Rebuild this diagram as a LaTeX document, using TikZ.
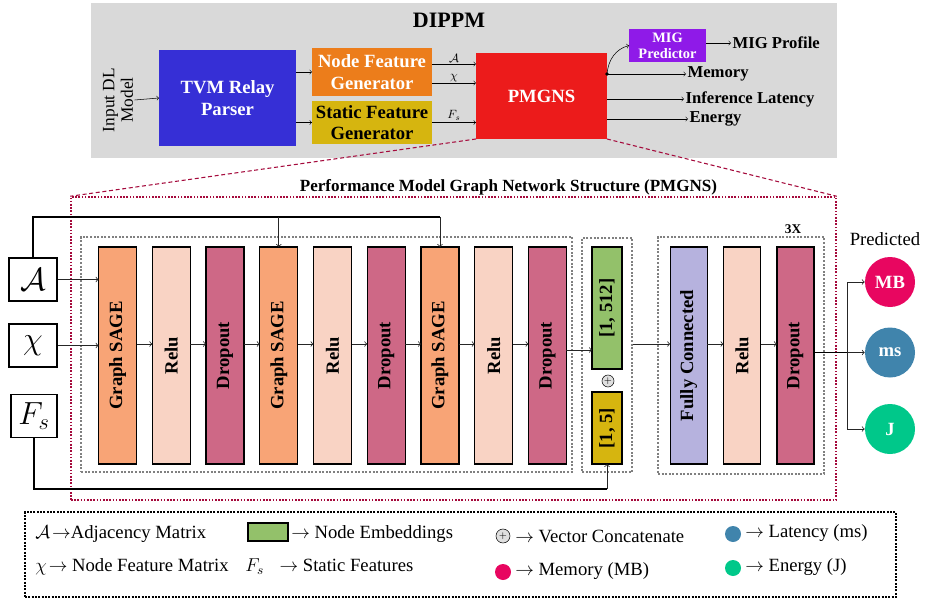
\RequirePackage{fix-cm}
\documentclass[tikz,border=0pt]{standalone}
\usepackage{fontspec}
\setmainfont{Liberation Serif}
\usepackage{graphicx}
\usetikzlibrary{matrix}

\definecolor{panel}{RGB}{217,217,217}
\definecolor{tvmblue}{RGB}{54,47,214}
\definecolor{nfgorange}{RGB}{236,125,27}
\definecolor{sfggold}{RGB}{214,181,15}
\definecolor{pmred}{RGB}{236,27,27}
\definecolor{migpurple}{RGB}{143,26,232}
\definecolor{crimson}{RGB}{165,10,60}
\definecolor{gsage}{RGB}{248,164,118}
\definecolor{relu}{RGB}{249,211,196}
\definecolor{drop}{RGB}{206,104,134}
\definecolor{embgreen}{RGB}{147,193,106}
\definecolor{fclav}{RGB}{182,178,222}
\definecolor{mbpink}{RGB}{232,6,96}
\definecolor{msblue}{RGB}{64,132,172}
\definecolor{jgreen}{RGB}{0,200,138}

\newcommand{\vlabel}[1]{\rotatebox{90}{#1}}

\def\GNNStack{
    \matrix (gnn) at (332.5,355.5)
    [matrix of nodes,
    ampersand replacement=\&,
    column sep={10.8pt},
    nodes={outer sep=0pt, inner sep=0pt, anchor=center, minimum width=28.5pt, minimum height=162.75pt, draw, line width=1pt, rectangle, font=\fontsize{14}{16}\selectfont\bfseries} ]
    {
     |[fill=gsage]| \vlabel{Graph SAGE} \& |[fill=relu]| \vlabel{Relu} \& |[fill=drop]| \vlabel{Dropout} \&
     |[fill=gsage]| \vlabel{Graph SAGE} \& |[fill=relu]| \vlabel{Relu} \& |[fill=drop]| \vlabel{Dropout} \&
     |[fill=gsage]| \vlabel{Graph SAGE} \& |[fill=relu]| \vlabel{Relu} \& |[fill=drop]| \vlabel{Dropout} \\
};
}

\def\FCStack{
    \matrix (fc) at (742,355.5)
    [matrix of nodes,
    ampersand replacement=\&,
    column sep={11.25pt},
    nodes={outer sep=0pt, inner sep=0pt, anchor=center, minimum width=27.75pt, minimum height=162.75pt, draw, line width=1pt, rectangle, font=\fontsize{14}{16}\selectfont\bfseries} ]
    {
     |[fill=fclav]| \vlabel{Fully Connected} \& |[fill=relu]| \vlabel{Relu} \& |[fill=drop]| \vlabel{Dropout} \\
};
}

\begin{document}
\begin{tikzpicture}[x=0.75pt, y=-0.75pt, >=to,
    block/.style={inner sep=0pt, outer sep=0pt, align=center, font=\fontsize{14}{16}\selectfont\bfseries},
    link/.style={->, draw=black!85, line width=0.6pt},
    rail/.style={line width=1.4pt},
    dashbox/.style={draw=gray, dash pattern=on 1.5pt off 1.2pt, line width=0.9pt, inner sep=0pt},
    outlbl/.style={anchor=west, inner sep=1pt, font=\fontsize{12.5}{14}\selectfont\bfseries},
    legtxt/.style={anchor=west, inner sep=0pt, font=\fontsize{14}{16}\selectfont},
    disc/.style={circle, inner sep=0pt, minimum size=37.5pt, text=white, font=\fontsize{14}{16}\selectfont\bfseries},
    inbox/.style={draw, fill=white, line width=1.2pt, minimum width=36pt, minimum height=32.25pt, inner sep=0pt, font=\fontsize{24}{28}\selectfont},
    concat/.style={circle, draw, fill=gray!25, minimum size=9pt, inner sep=0pt, font=\fontsize{7}{8}\selectfont}]

    \useasboundingbox (0,0) rectangle (927,602);

    % DIPPM overview
    \fill[panel] (91,3) rectangle (837,158);
    \node[font=\fontsize{16.5}{18}\selectfont\bfseries] (title) at (449,20) {DIPPM};
    \node[rotate=90, align=center, inner sep=1pt, font=\fontsize{13}{14}\selectfont] (inputdl) at (118,100) {Input DL\\Model};
    \node[block, fill=tvmblue, text=white, minimum width=102.75pt, minimum height=72pt] (tvm) at (227.5,98) {TVM Relay\\Parser};
    \node[block, fill=nfgorange, text=white, minimum width=90pt, minimum height=36pt] (nfg) at (372,72) {Node Feature\\Generator};
    \node[block, fill=sfggold, minimum width=90pt, minimum height=32.25pt] (sfg) at (372,122.5) {Static Feature\\Generator};
    \node[block, fill=pmred, text=white, minimum width=98.25pt, minimum height=64.5pt] (pmgns) at (541.5,96) {PMGNS};
    \node[block, fill=migpurple, text=white, minimum width=57.75pt, minimum height=24.75pt, font=\fontsize{10.8}{12}\selectfont\bfseries] (mig) at (667.5,45.5) {MIG\\Predictor};

    \node[outlbl] (migprof) at (731,43) {MIG Profile};
    \node[outlbl] (memory) at (686,74) {Memory};
    \node[outlbl] (latency) at (684,99) {Inference Latency};
    \node[outlbl] (energy) at (688,119) {Energy};

    \draw[->] (inputdl.south) -- (tvm.west);
    \draw[->] (tvm.east |- nfg.west) -- (nfg.west);
    \draw[->] (tvm.east |- sfg.west) -- (sfg.west);

    \coordinate (ain) at ([yshift=6pt]nfg.east);
    \coordinate (xin) at ([yshift=-8.25pt]nfg.east);
    \draw[->] (ain) -- (ain -| pmgns.west) node[midway, above, inner sep=1pt, font=\fontsize{9}{10}\selectfont] {$\mathcal{A}$};
    \draw[->] (xin) -- (xin -| pmgns.west) node[midway, above, inner sep=1pt, font=\fontsize{9}{10}\selectfont] {$\chi$};
    \draw[->] (sfg.east) -- (sfg.east -| pmgns.west) node[midway, above, inner sep=1.5pt, font=\fontsize{9}{10}\selectfont] {$F_s$};

    \coordinate (split) at (pmgns.east |- memory.west);
    \draw[->] (split) -- (memory.west);
    \draw[->] (pmgns.east |- latency.west) -- (latency.west);
    \draw[->] (pmgns.east |- energy.west) -- (energy.west);
    \draw[->] (split) to[out=85, in=195] (mig.west);
    \fill (split) circle (1.8);
    \draw[->] (mig.east |- migprof.west) -- (migprof.west);

    % PMGNS detail
    \node[draw=crimson, dash pattern=on 1.2pt off 1.2pt, line width=1.1pt, inner sep=0pt, minimum width=573.75pt, minimum height=227.25pt] (detail) at (453.5,348.5) {};
    \draw[crimson, dash pattern=on 3pt off 2pt, line width=0.8pt] (pmgns.south west) -- (detail.north west);
    \draw[crimson, dash pattern=on 3pt off 2pt, line width=0.8pt] (pmgns.south east) -- (detail.north east);
    \node[font=\fontsize{12.8}{14}\selectfont\bfseries] (detailtitle) at (508.5,187) {Performance Model Graph Network Structure (PMGNS)};

    \node[inbox] (adj) at (33,279.5) {$\mathcal{A}$};
    \node[inbox] (chi) at (33,345.5) {$\chi$};
    \node[inbox, minimum width=34.5pt] (fs) at (34,416) {$F_s$};

    \node[dashbox, minimum width=368.25pt, minimum height=176.25pt] (stage1) at (326.5,354.5) {};
    \GNNStack

    \node[dashbox, minimum width=37.5pt, minimum height=175.5pt] (stage2) at (607,355) {};
    \node[block, draw, line width=1pt, fill=embgreen, minimum width=22.5pt, minimum height=91.5pt] (emb) at (607,308) {\vlabel{[1, 512]}};
    \node[block, draw, line width=1pt, fill=sfggold, minimum width=22.5pt, minimum height=54pt] (stat) at (607,428) {\vlabel{[1, 5]}};
    \node[concat] (cat) at (608,381) {$+$};

    \node[dashbox, minimum width=124.5pt, minimum height=177.75pt] (stage3) at (741,355.5) {};
    \FCStack
    \node[font=\fontsize{10}{11}\selectfont\bfseries] (repeat) at (793,229) {3X};

    \coordinate (flow) at (0,344);
    \coordinate (gout) at (0,350);
    \coordinate (toprail) at (0,217);
    \coordinate (botrail) at (0,489);

    \draw[link] (adj.east) -- (gnn-1-1.west |- adj.east);
    \draw[link] (chi.east) -- (gnn-1-1.west |- chi.east);
    \foreach \i [count=\j from 2] in {1,...,8} {
    \draw[link] (gnn-1-\i.east |- flow) -- (gnn-1-\j.west |- flow);
    }
    \draw[link] (gnn-1-9.east |- gout) -- (emb.west |- gout);
    \draw[link] (stage2.east |- flow) -- (fc-1-1.west |- flow);
    \foreach \i [count=\j from 2] in {1,2} {
    \draw[link] (fc-1-\i.east |- flow) -- (fc-1-\j.west |- flow);
    }

    \draw[rail] (adj.north) -- (adj.north |- toprail) -- (gnn-1-7.north |- toprail);
    \draw[link] (gnn-1-4.north |- toprail) -- (gnn-1-4.north);
    \draw[link] (gnn-1-7.north |- toprail) -- (gnn-1-7.north);
    \draw[rail] (fs.south) -- (fs.south |- botrail) -- (stat.south |- botrail);
    \draw[link] (stat.south |- botrail) -- (stat.south);

    % predictions
    \node[font=\fontsize{14}{16}\selectfont] (predicted) at (885,239) {Predicted};
    \node[disc, fill=mbpink] (mb) at (890,282) {MB};
    \node[disc, fill=msblue] (ms) at (890,352.5) {ms};
    \node[disc, fill=jgreen] (jl) at (890,429) {J};
    \coordinate (fork) at (847,352.5);
    \draw[rail] (fc-1-3.east |- fork) -- (fork);
    \draw[link] (fork) |- (mb.west);
    \draw[link] (fork) -- (ms.west);
    \draw[link] (fork) |- (jl.west);

    % legend
    \node[draw, dash pattern=on 1.5pt off 1pt, line width=0.8pt, inner sep=0pt, minimum width=653.25pt, minimum height=63.75pt] (legend) at (460.5,554.5) {};
    \node[legtxt] (lgadj) at (35,534) {$\mathcal{A}\!\rightarrow$Adjacency Matrix};
    \node[legtxt] (lgchi) at (35,567) {$\chi\!\rightarrow$ Node Feature Matrix};
    \node[draw, line width=1.2pt, fill=embgreen, minimum width=30pt, minimum height=13.5pt, inner sep=0pt] (lgemb) at (268,532) {};
    \node[legtxt] (lgembtxt) at (291,534) {$\rightarrow$ Node Embeddings};
    \node[legtxt] (lgfs) at (245,567) {$F_s\;\;\rightarrow$ Static Features};
    \node[concat, minimum size=10.5pt] (lgcat) at (503,536) {$+$};
    \node[legtxt] (lgcattxt) at (515,536) {$\rightarrow$ Vector Concatenate};
    \node[circle, fill=mbpink, minimum size=12pt, inner sep=0pt] (lgmb) at (503,572) {};
    \node[legtxt] (lgmbtxt) at (515,571) {$\rightarrow$ Memory (MB)};
    \node[circle, fill=msblue, minimum size=12pt, inner sep=0pt] (lgms) at (733,534) {};
    \node[legtxt] (lgmstxt) at (745,533) {$\rightarrow$ Latency (ms)};
    \node[circle, fill=jgreen, minimum size=12pt, inner sep=0pt] (lgj) at (733,568) {};
    \node[legtxt] (lgjtxt) at (745,567) {$\rightarrow$ Energy (J)};

\end{tikzpicture}
\end{document}
